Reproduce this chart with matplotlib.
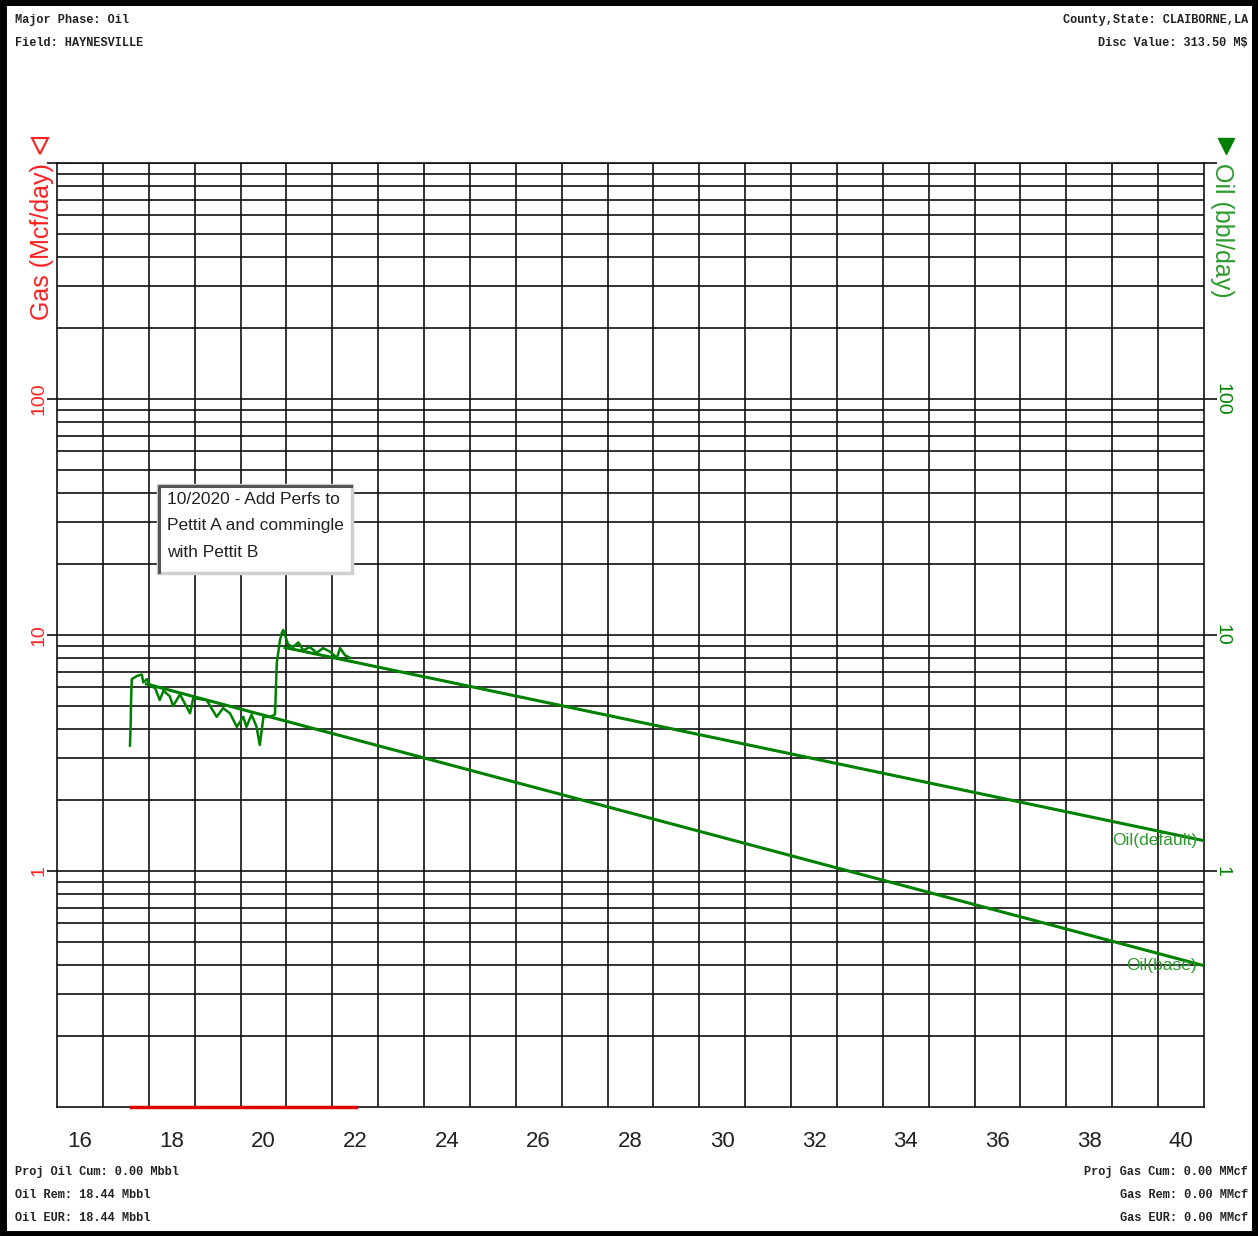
import numpy as np
import matplotlib.pyplot as plt
from matplotlib.patches import Rectangle
from matplotlib.ticker import FixedLocator, NullFormatter

W, H = 1258, 1236

# oil history (bbl/day)
hist_t = [2017.59, 2017.605, 2017.615, 2017.63, 2017.74, 2017.85, 2017.88, 2017.96,
          2018.03, 2018.14, 2018.24, 2018.32, 2018.46, 2018.53, 2018.68, 2018.90,
          2018.97, 2019.26, 2019.48, 2019.62, 2019.77, 2019.92, 2020.06, 2020.13,
          2020.24, 2020.35, 2020.42, 2020.50, 2020.64, 2020.75, 2020.76, 2020.79,
          2020.86, 2020.90, 2020.93, 2021.04, 2021.15, 2021.26, 2021.37, 2021.51,
          2021.66, 2021.80, 2021.95, 2022.10, 2022.17, 2022.28, 2022.39]
hist_oil = [3.4, 4.1, 5.3, 6.5, 6.7, 6.8, 6.3, 6.5,
            6.1, 5.95, 5.3, 5.8, 5.5, 5.0, 5.6, 4.66,
            5.4, 5.3, 4.5, 4.9, 4.66, 4.08, 4.5, 4.08,
            4.6, 4.08, 3.42, 4.5, 4.5, 4.6, 5.1, 7.6,
            9.5, 10.2, 10.5, 9.1, 8.9, 9.3, 8.6, 8.9,
            8.4, 8.8, 8.5, 8.0, 8.8, 8.2, 8.0]

# forecasts: start and end of each decline line
base_t = [2017.95, 2041.0]
base_oil = [6.2, 0.397]
default_t = [2020.97, 2041.0]
default_oil = [8.85, 1.344]

# gas history is zero, drawn on the floor of the chart
gas_t = [2017.61, 2022.52]
gas_val = [0.1, 0.1]

year_labels = ['16', '18', '20', '22', '24', '26', '28', '30', '32', '34', '36', '38', '40']
ytick_vals = [1, 10, 100, 1000]
ytick_text = ['1', '10', '100', '']

header_left = ['Major Phase: Oil', 'Field: HAYNESVILLE']
header_right = ['County,State: CLAIBORNE,LA', 'Disc Value: 313.50 M$']
footer_left = ['Proj Oil Cum: 0.00 Mbbl', 'Oil Rem: 18.44 Mbbl', 'Oil EUR: 18.44 Mbbl']
footer_right = ['Proj Gas Cum: 0.00 MMcf', 'Gas Rem: 0.00 MMcf', 'Gas EUR: 0.00 MMcf']
note = '10/2020 - Add Perfs to\nPettit A and commingle\nwith Pettit B'

GREEN = '#008000'
RED = '#ff2020'
SANS = 'Liberation Sans'


def fx(px):
    return px / W


def fy(py):
    return 1 - py / H


fig = plt.figure(figsize=(W / 100, H / 100), dpi=100)
ax = fig.add_axes([fx(57), fy(1107), fx(1204) - fx(57), fy(163) - fy(1107)])
ax.set_yscale('log')
ax.set_xlim(2016, 2041)
ax.set_ylim(0.1, 1000)

# grid
ax.set_xticks([2000 + int(l) + 0.5 for l in year_labels])
ax.set_xticklabels(year_labels, fontsize=16, family=SANS, color='#222222')
ax.set_xticks(np.arange(2017, 2041), minor=True)
ax.tick_params(axis='x', which='both', length=0, pad=17)
ax.yaxis.set_major_locator(FixedLocator(ytick_vals))
ax.set_yticklabels(ytick_text)
ax.yaxis.set_minor_formatter(NullFormatter())
ax.grid(axis='x', which='minor', color='#111111', lw=1.2)
ax.grid(axis='y', which='both', color='#111111', lw=1.2)
ax.set_axisbelow(True)
for s in ax.spines.values():
    s.set_color('#111111')
    s.set_linewidth(1.2)

ax.tick_params(axis='y', which='minor', length=0)
ax.tick_params(axis='y', which='major', left=True, right=True, labelleft=True,
               labelright=True, direction='out', length=7, width=1.2, pad=0,
               color='#111111', labelsize=14)
for lab in ax.get_yticklabels():
    lab.set_color(RED)
    lab.set_rotation(90)
    lab.set_va('center')
    lab.set_family(SANS)
for t in ax.yaxis.get_major_ticks():
    t.tick2line.set_markersize(9)
    t.label2.set_color(GREEN)
    t.label2.set_rotation(270)
    t.label2.set_va('center')
    t.label2.set_family(SANS)

# data
ax.plot(hist_t, hist_oil, color=GREEN, lw=1.8, zorder=3)
ax.plot(base_t, base_oil, color=GREEN, lw=2.2, zorder=3)
ax.plot(default_t, default_oil, color=GREEN, lw=2.2, zorder=3)
ax.plot(gas_t, gas_val, color='#dd0000', lw=2.5, zorder=4, clip_on=False)

ax.text(default_t[-1] - 0.15, default_oil[-1], 'Oil(default)', ha='right', va='center',
        fontsize=12.5, family=SANS, color='#2e9a2e', zorder=5)
ax.text(base_t[-1] - 0.15, base_oil[-1], 'Oil(base)', ha='right', va='center',
        fontsize=12.5, family=SANS, color='#2e9a2e', zorder=5)

# axis titles and markers
fig.text(fx(42), fy(163), 'Gas (Mcf/day)', rotation=90, ha='center', va='top',
         color=RED, fontsize=18, family=SANS)
fig.text(fx(1222), fy(163), 'Oil (bbl/day)', rotation=270, ha='center', va='top',
         color='#2e9a2e', fontsize=18, family=SANS)
fig.add_artist(plt.Line2D([fx(40)], [fy(146)], marker='v', ms=11, mfc='none',
                          mec=RED, mew=1.5, transform=fig.transFigure))
fig.add_artist(plt.Line2D([fx(1226)], [fy(146)], marker='v', ms=11, mfc=GREEN,
                          mec=GREEN, transform=fig.transFigure))

# note box
fig.add_artist(Rectangle((fx(158), fy(573)), fx(352) - fx(158), fy(485) - fy(573),
                         facecolor='white', edgecolor='#d0d0d0', lw=2.5,
                         transform=fig.transFigure, zorder=6))
fig.add_artist(plt.Line2D([fx(159), fx(159), fx(351)], [fy(572), fy(486), fy(486)],
                          color='#555555', lw=2.2, transform=fig.transFigure, zorder=7))
fig.text(fx(167), fy(492), note, ha='left', va='top', fontsize=12.5, family=SANS,
         color='#222222', linespacing=1.95, zorder=8)

# header / footer
mono = dict(family='Liberation Mono', fontweight='bold', fontsize=8.6, color='#222222')
for i, s in enumerate(header_left):
    fig.text(fx(15), fy(20 + 23 * i), s, ha='left', va='center', **mono)
for i, s in enumerate(header_right):
    fig.text(fx(1248), fy(20 + 23 * i), s, ha='right', va='center', **mono)
for i, s in enumerate(footer_left):
    fig.text(fx(15), fy(1172 + 23 * i), s, ha='left', va='center', **mono)
for i, s in enumerate(footer_right):
    fig.text(fx(1248), fy(1172 + 23 * i), s, ha='right', va='center', **mono)

# frame around the picture
fig.add_artist(Rectangle((0.002, 0.002), 0.996, 0.996, fill=False, edgecolor='black',
                         lw=5, transform=fig.transFigure))

fig.savefig('out.png', dpi=100)
